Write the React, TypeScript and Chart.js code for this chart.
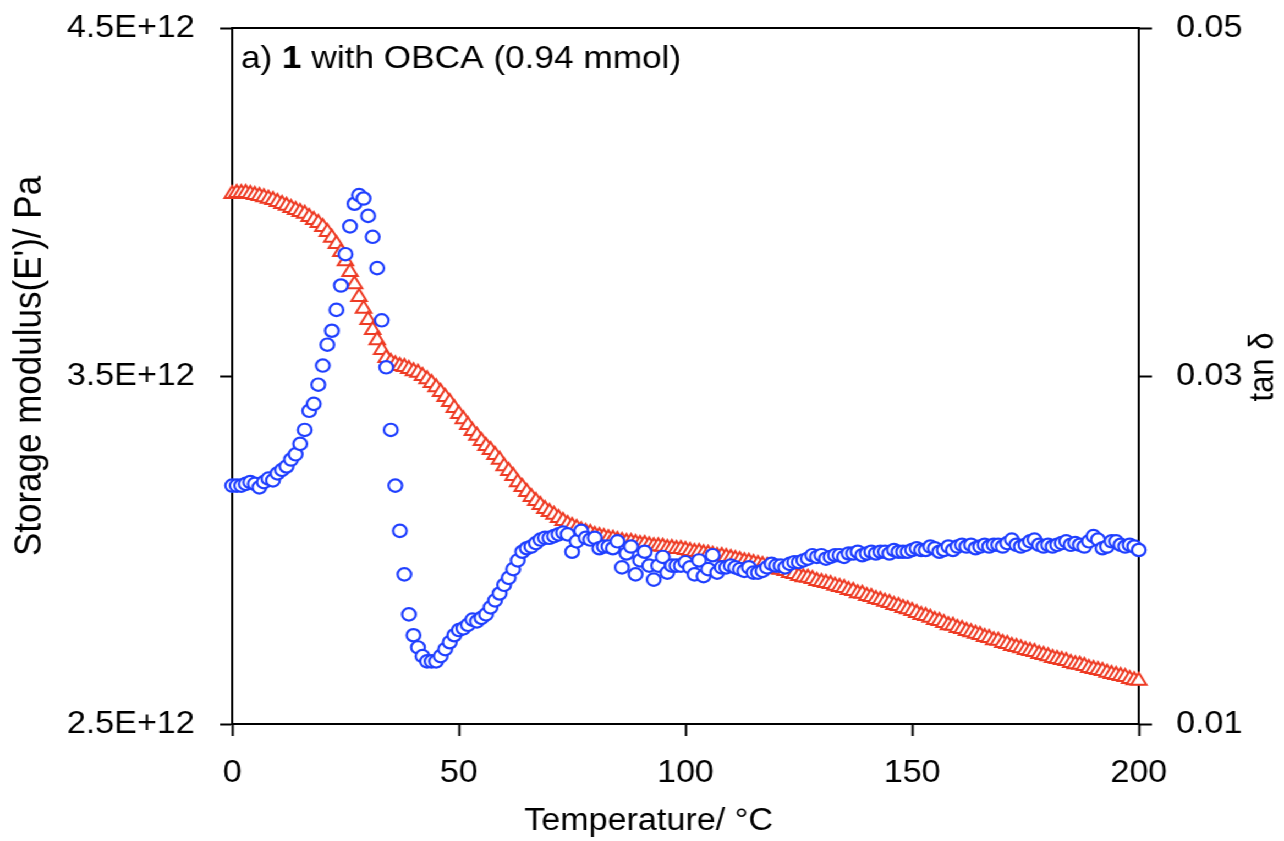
import { useEffect, useRef } from 'react';
import { Chart, registerables } from 'chart.js';

Chart.register(...registerables);

// ---- data ----
const temperatures = [
  0, 1, 2, 3, 4, 5, 6, 7, 8, 9, 10, 11, 12, 13, 14, 15, 16, 17, 18, 19,
  20, 21, 22, 23, 24, 25, 26, 27, 28, 29, 30, 31, 32, 33, 34, 35, 36, 37, 38, 39,
  40, 41, 42, 43, 44, 45, 46, 47, 48, 49, 50, 51, 52, 53, 54, 55, 56, 57, 58, 59,
  60, 61, 62, 63, 64, 65, 66, 67, 68, 69, 70, 71, 72, 73, 74, 75, 76, 77, 78, 79,
  80, 81, 82, 83, 84, 85, 86, 87, 88, 89, 90, 91, 92, 93, 94, 95, 96, 97, 98, 99,
  100, 101, 102, 103, 104, 105, 106, 107, 108, 109, 110, 111, 112, 113, 114, 115, 116, 117, 118, 119,
  120, 121, 122, 123, 124, 125, 126, 127, 128, 129, 130, 131, 132, 133, 134, 135, 136, 137, 138, 139,
  140, 141, 142, 143, 144, 145, 146, 147, 148, 149, 150, 151, 152, 153, 154, 155, 156, 157, 158, 159,
  160, 161, 162, 163, 164, 165, 166, 167, 168, 169, 170, 171, 172, 173, 174, 175, 176, 177, 178, 179,
  180, 181, 182, 183, 184, 185, 186, 187, 188, 189, 190, 191, 192, 193, 194, 195, 196, 197, 198, 199,
  200,
];

// Storage modulus E' in units of 1E+12 Pa
const storageModulusE12 = [
  4.023, 4.026, 4.026, 4.026, 4.023, 4.020, 4.017, 4.014, 4.009, 4.006,
  4.000, 3.994, 3.989, 3.983, 3.977, 3.971, 3.966, 3.957, 3.948, 3.940,
  3.928, 3.914, 3.897, 3.879, 3.856, 3.830, 3.799, 3.764, 3.727, 3.693,
  3.661, 3.632, 3.603, 3.575, 3.552, 3.540, 3.534, 3.529, 3.526, 3.520,
  3.514, 3.509, 3.500, 3.491, 3.480, 3.468, 3.454, 3.440, 3.425, 3.408,
  3.391, 3.376, 3.359, 3.342, 3.328, 3.313, 3.299, 3.287, 3.273, 3.259,
  3.241, 3.227, 3.213, 3.195, 3.181, 3.167, 3.152, 3.141, 3.129, 3.118,
  3.109, 3.101, 3.092, 3.083, 3.075, 3.069, 3.063, 3.057, 3.052, 3.049,
  3.043, 3.040, 3.037, 3.034, 3.032, 3.029, 3.026, 3.023, 3.023, 3.020,
  3.017, 3.017, 3.014, 3.011, 3.011, 3.009, 3.006, 3.006, 3.003, 3.003,
  3.000, 2.997, 2.994, 2.994, 2.991, 2.989, 2.986, 2.983, 2.983, 2.980,
  2.977, 2.974, 2.971, 2.968, 2.966, 2.963, 2.960, 2.957, 2.954, 2.951,
  2.945, 2.943, 2.940, 2.934, 2.931, 2.925, 2.922, 2.920, 2.917, 2.911,
  2.908, 2.905, 2.902, 2.897, 2.894, 2.891, 2.885, 2.882, 2.876, 2.874,
  2.868, 2.865, 2.859, 2.856, 2.851, 2.848, 2.842, 2.839, 2.833, 2.830,
  2.825, 2.819, 2.813, 2.810, 2.805, 2.799, 2.796, 2.790, 2.784, 2.782,
  2.776, 2.773, 2.767, 2.764, 2.759, 2.756, 2.750, 2.747, 2.741, 2.739,
  2.733, 2.730, 2.724, 2.721, 2.718, 2.713, 2.710, 2.707, 2.701, 2.698,
  2.695, 2.690, 2.687, 2.684, 2.681, 2.675, 2.672, 2.670, 2.667, 2.661,
  2.658, 2.655, 2.652, 2.647, 2.644, 2.641, 2.638, 2.635, 2.629, 2.626,
  2.624,
];

const tanDelta = [
  0.0237, 0.0237, 0.0237, 0.0238, 0.0239, 0.0238, 0.0236, 0.0239, 0.0241, 0.0240,
  0.0244, 0.0246, 0.0248, 0.0252, 0.0255, 0.0261, 0.0269, 0.0280, 0.0284, 0.0295,
  0.0306, 0.0318, 0.0326, 0.0338, 0.0352, 0.0370, 0.0386, 0.0399, 0.0404, 0.0402,
  0.0392, 0.0380, 0.0362, 0.0332, 0.0305, 0.0269, 0.0237, 0.0211, 0.0186, 0.0163,
  0.0151, 0.0144, 0.0139, 0.0136, 0.0136, 0.0136, 0.0139, 0.0143, 0.0147, 0.0151,
  0.0154, 0.0155, 0.0157, 0.0160, 0.0159, 0.0161, 0.0163, 0.0167, 0.0171, 0.0175,
  0.0180, 0.0184, 0.0189, 0.0194, 0.0199, 0.0201, 0.0202, 0.0204, 0.0206, 0.0207,
  0.0207, 0.0208, 0.0209, 0.0210, 0.0209, 0.0199, 0.0205, 0.0211, 0.0207, 0.0206,
  0.0207, 0.0201, 0.0202, 0.0202, 0.0201, 0.0205, 0.0190, 0.0198, 0.0202, 0.0186,
  0.0194, 0.0199, 0.0191, 0.0183, 0.0191, 0.0196, 0.0187, 0.0191, 0.0191, 0.0191,
  0.0193, 0.0190, 0.0186, 0.0194, 0.0185, 0.0189, 0.0197, 0.0187, 0.0190, 0.0190,
  0.0191, 0.0190, 0.0189, 0.0188, 0.0190, 0.0187, 0.0187, 0.0188, 0.0190, 0.0192,
  0.0191, 0.0191, 0.0190, 0.0192, 0.0193, 0.0193, 0.0194, 0.0195, 0.0197, 0.0196,
  0.0197, 0.0195, 0.0196, 0.0197, 0.0197, 0.0196, 0.0198, 0.0198, 0.0199, 0.0197,
  0.0198, 0.0199, 0.0198, 0.0199, 0.0199, 0.0198, 0.0200, 0.0199, 0.0199, 0.0199,
  0.0200, 0.0201, 0.0200, 0.0200, 0.0202, 0.0201, 0.0199, 0.0200, 0.0202, 0.0200,
  0.0202, 0.0203, 0.0202, 0.0203, 0.0201, 0.0202, 0.0203, 0.0202, 0.0203, 0.0203,
  0.0202, 0.0204, 0.0206, 0.0203, 0.0202, 0.0203, 0.0205, 0.0206, 0.0203, 0.0202,
  0.0203, 0.0202, 0.0203, 0.0204, 0.0205, 0.0203, 0.0204, 0.0203, 0.0202, 0.0205,
  0.0208, 0.0206, 0.0201, 0.0202, 0.0205, 0.0205, 0.0203, 0.0202, 0.0203, 0.0202,
  0.0200,
];

const xTicks = [0, 50, 100, 150, 200];
const leftTicks = [2.5, 3.5, 4.5];
const rightTicks = [0.01, 0.03, 0.05];

const xTitle = 'Temperature/ °C';
const leftTitle = "Storage modulus(E')/ Pa";
const rightTitle = 'tan δ';
const annotationParts = [
  { text: 'a) ', bold: false },
  { text: '1', bold: true },
  { text: ' with OBCA (0.94 mmol)', bold: false },
];

// ---- styling ----
const W = 1167;
const H = 841;
const STRETCH = 1284 / W;
const FONT = '"Liberation Sans", Arial, Helvetica, sans-serif';
const RED = '#EE3B24';
const BLUE = '#1F3FFF';

const decorPlugin = {
  id: 'decor',
  afterDraw(chart: any) {
    const { ctx, chartArea } = chart;
    ctx.save();
    ctx.strokeStyle = '#000';
    ctx.lineWidth = 2;
    ctx.beginPath();
    ctx.moveTo(chartArea.left - 1, chartArea.top);
    ctx.lineTo(chartArea.right + 1, chartArea.top);
    ctx.stroke();

    ctx.fillStyle = '#000';
    ctx.textAlign = 'left';
    ctx.textBaseline = 'alphabetic';
    let x = chartArea.left + 8;
    for (const p of annotationParts) {
      ctx.font = `${p.bold ? 'bold ' : ''}32px ${FONT}`;
      ctx.fillText(p.text, x, 68);
      x += ctx.measureText(p.text).width;
    }

    ctx.font = `31px ${FONT}`;
    ctx.textAlign = 'center';
    ctx.fillText(xTitle, 589.5, 830);

    ctx.save();
    ctx.translate(27, 366);
    ctx.rotate(-Math.PI / 2);
    ctx.textBaseline = 'middle';
    ctx.font = `35px ${FONT}`;
    ctx.fillText(leftTitle, 0, 0);
    ctx.restore();

    ctx.save();
    ctx.translate(1148, 367);
    ctx.rotate(-Math.PI / 2);
    ctx.textBaseline = 'middle';
    ctx.font = `31px ${FONT}`;
    ctx.fillText(rightTitle, 0, 0);
    ctx.restore();

    ctx.restore();
  },
};

const noVerticalPadding = (s: any) => {
  s.paddingTop = 0;
  s.paddingBottom = 0;
};

export default function App() {
  const ref = useRef<HTMLCanvasElement>(null);

  useEffect(() => {
    const tickFont = { family: FONT, size: 31 };
    const chart = new Chart(ref.current!, {
      type: 'scatter',
      data: {
        datasets: [
          {
            label: 'tan δ',
            data: temperatures.map((t, i) => ({ x: t, y: tanDelta[i] })),
            yAxisID: 'y2',
            pointStyle: 'circle',
            pointRadius: 6.2,
            pointBorderWidth: 2.2,
            pointBorderColor: BLUE,
            pointBackgroundColor: '#fff',
            clip: false,
            order: 0,
          },
          {
            label: "E'",
            data: temperatures.map((t, i) => ({ x: t, y: storageModulusE12[i] })),
            yAxisID: 'y',
            pointStyle: 'triangle',
            pointRadius: 8,
            pointBorderWidth: 2,
            pointBorderColor: RED,
            pointBackgroundColor: '#fff',
            clip: false,
            order: 1,
          },
        ],
      },
      options: {
        responsive: false,
        animation: false,
        layout: { padding: { top: 28, left: 0, right: 0, bottom: 0 } },
        plugins: { legend: { display: false }, tooltip: { enabled: false } },
        scales: {
          x: {
            type: 'linear',
            min: 0,
            max: 200,
            z: 1,
            afterBuildTicks: (s: any) => { s.ticks = xTicks.map((v) => ({ value: v })); },
            afterFit: (s: any) => { s.height = 117; s.paddingLeft = 0; s.paddingRight = 0; },
            ticks: { font: tickFont, color: '#000', padding: 19, maxRotation: 0 },
            grid: { drawOnChartArea: false, drawTicks: true, tickLength: 12, tickWidth: 2, tickColor: '#000' },
            border: { display: true, color: '#000', width: 2 },
          },
          y: {
            type: 'linear',
            position: 'left',
            min: 2.5,
            max: 4.5,
            z: 1,
            afterBuildTicks: (s: any) => { s.ticks = leftTicks.map((v) => ({ value: v })); },
            afterFit: (s: any) => { s.width = 211; noVerticalPadding(s); },
            ticks: { font: tickFont, color: '#000', padding: 23, callback: (v: any) => `${Number(v).toFixed(1)}E+12` },
            grid: { drawOnChartArea: false, drawTicks: true, tickLength: 11, tickWidth: 2, tickColor: '#000' },
            border: { display: true, color: '#000', width: 2 },
          },
          y2: {
            type: 'linear',
            position: 'right',
            min: 0.01,
            max: 0.05,
            z: 1,
            afterBuildTicks: (s: any) => { s.ticks = rightTicks.map((v) => ({ value: v })); },
            afterFit: (s: any) => { s.width = 132; noVerticalPadding(s); },
            ticks: { font: tickFont, color: '#000', padding: 22, callback: (v: any) => Number(v).toFixed(2) },
            grid: { drawOnChartArea: false, drawTicks: true, tickLength: 12, tickWidth: 2, tickColor: '#000' },
            border: { display: true, color: '#000', width: 2 },
          },
        },
      },
      plugins: [decorPlugin],
    } as any);
    return () => chart.destroy();
  }, []);

  return (
    <div
      style={{
        position: 'absolute',
        left: 0,
        top: 0,
        width: W,
        height: H,
        background: '#fff',
        transform: `scaleX(${STRETCH})`,
        transformOrigin: '0 0',
      }}
    >
      <canvas ref={ref} width={W} height={H} style={{ display: 'block', width: W, height: H }} />
    </div>
  );
}
